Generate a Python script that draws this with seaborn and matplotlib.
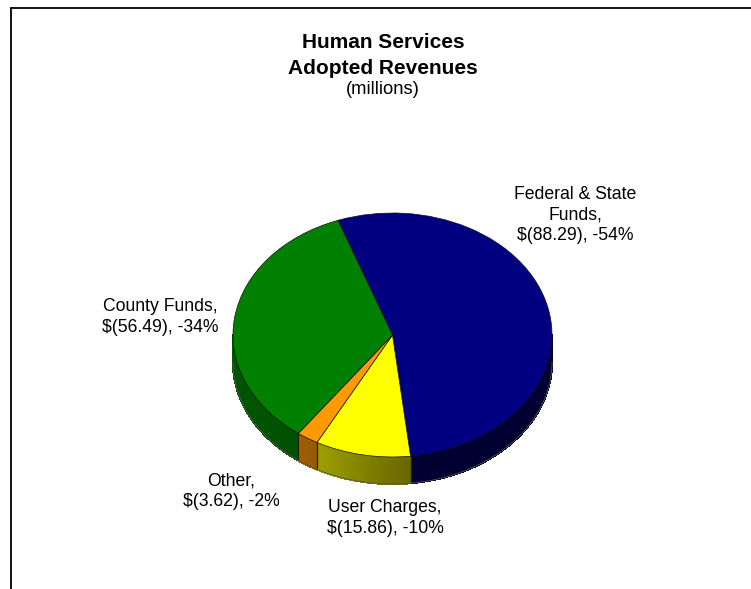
import numpy as np
import matplotlib
matplotlib.use("Agg")
import matplotlib.pyplot as plt
from matplotlib.collections import PolyCollection
from matplotlib.lines import Line2D
import seaborn as sns

# Revenue sources, in millions, in drawing order (clockwise)
sources = ["Federal & State\nFunds,\n$(88.29), -54%",
           "User Charges,\n$(15.86), -10%",
           "Other,\n$(3.62), -2%",
           "County Funds,\n$(56.49), -34%"]
amounts = [88.29, 15.86, 3.62, 56.49]
slice_colors = ["#000080", "#FFFF00", "#FF9900", "#008000"]
wall_left = [0.38, 0.62, 0.62, 0.70]
wall_right = [0.38, 0.40, 0.58, 0.64]

sns.set_theme(style="white")
plt.rcParams["font.family"] = ["Liberation Sans", "DejaVu Sans"]

W, H = 751, 589
cx, cy, rx, ry, depth = 392.5, 335.0, 159.5, 122.0, 27.0
start = 110.0

fig = plt.figure(figsize=(W / 100, H / 100), dpi=100, facecolor="white")
ax = fig.add_axes([0, 0, 1, 1])

palette = sns.color_palette(slice_colors)
ax.pie(amounts, colors=palette, startangle=start, counterclock=False, radius=1,
       wedgeprops=dict(edgecolor="#101010", linewidth=0.5))
ax.set_aspect("auto")
ax.set_xlim(-cx / rx, (W - cx) / rx)
ax.set_ylim((cy - H) / ry, cy / ry)

# Front wall of the disc: shaded strips per slice, visible from 180 to 360 degrees
d = depth / ry
fractions = np.array(amounts) / sum(amounts)
edges = start - 360 * np.concatenate([[0], np.cumsum(fractions)])
for i, col in enumerate(palette):
    a0, a1 = edges[i], edges[i + 1]
    a = np.radians(np.linspace(a0, a1, 160))
    polys, fc = [], []
    for j in range(len(a) - 1):
        if np.sin(a[j]) > 0.0 and np.sin(a[j + 1]) > 0.0:
            continue
        x0, x1 = np.cos(a[j]), np.cos(a[j + 1])
        y0, y1 = min(np.sin(a[j]), 0), min(np.sin(a[j + 1]), 0)
        polys.append([(x0, y0), (x1, y1), (x1, y1 - d), (x0, y0 - d)])
        t = j / (len(a) - 2)
        k = wall_right[i] + (wall_left[i] - wall_right[i]) * t
        fc.append(tuple(np.array(col) * k))
    ax.add_collection(PolyCollection(polys, facecolors=fc, edgecolors=fc, linewidths=0.8,
                                     antialiased=False, zorder=0.5))

    # Dark seam where a slice's wall ends
    if np.sin(np.radians(a1)) < 0:
        xs = np.cos(np.radians(a1))
        ys = np.sin(np.radians(a1))
        ax.plot([xs, xs], [ys, ys - d], color="#2a1a00", lw=0.9, zorder=0.6)

# Lower rim of the wall
rim = np.radians(np.linspace(180, 360, 200))
ax.plot(np.cos(rim), np.sin(rim) - d, color="#555555", lw=0.6, zorder=0.7)


def place(x, y, s, **kw):
    fig.text(x / W, 1 - y / H, s, ha="center", va="center", color="black", **kw)


place(383, 43, "Human Services", fontsize=15.05, fontweight="bold")
place(382.5, 68, "Adopted Revenues", fontsize=15.05, fontweight="bold")
place(383, 89, "(millions)", fontsize=13.2)

label_xy = [(575.5, 215), (385, 518), (231, 491), (160.5, 317)]
for (lx, ly), s in zip(label_xy, sources):
    place(lx, ly, s, fontsize=12.7, linespacing=1.27)

# Frame of the chart area, open on the right and at the bottom
fig.add_artist(Line2D([10.5 / W, 10.5 / W], [0, 1 - 7.5 / H], color="black", lw=1.3))
fig.add_artist(Line2D([10.5 / W, 1], [1 - 7.5 / H, 1 - 7.5 / H], color="black", lw=1.3))

fig.savefig("out.png", dpi=100)
